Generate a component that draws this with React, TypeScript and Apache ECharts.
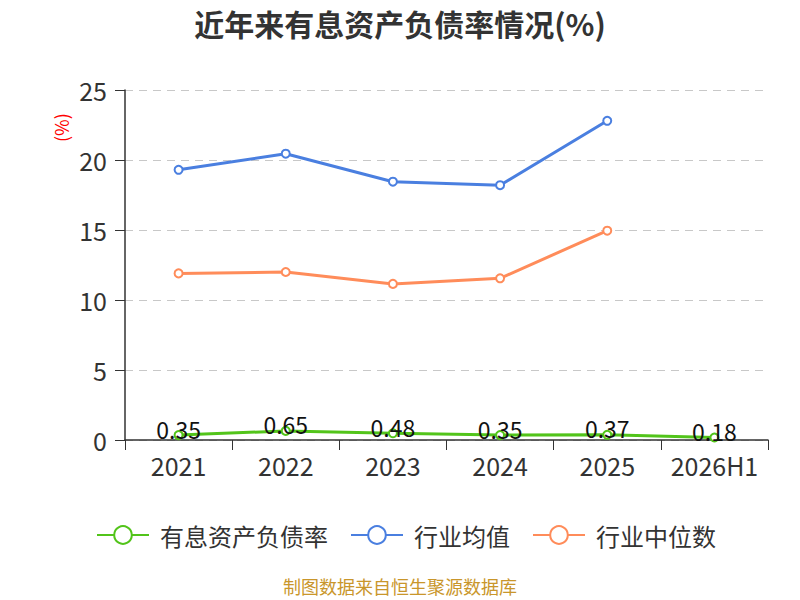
import { useRef, useEffect } from 'react'
import * as echarts from 'echarts'

const categories = ['2021', '2022', '2023', '2024', '2025', '2026H1']
const debtRatio = [0.35, 0.65, 0.48, 0.35, 0.37, 0.18]
const industryAvg = [19.3, 20.45, 18.45, 18.2, 22.8, null]
const industryMedian = [11.9, 12.0, 11.15, 11.55, 14.95, null]

const FONT = '"Noto Sans CJK SC", "Noto Sans", sans-serif'

export default function App() {
  const ref = useRef<HTMLDivElement>(null)

  useEffect(() => {
    const el = ref.current
    if (!el) return
    const chart = echarts.init(el, null, { renderer: 'svg' })

    const option: echarts.EChartsOption = {
      animation: false,
      backgroundColor: '#fff',
      textStyle: { fontFamily: FONT },
      title: {
        text: '近年来有息资产负债率情况(%)',
        left: 'center',
        top: 3,
        textStyle: { fontSize: 30, fontWeight: 'bold', color: '#333', fontFamily: FONT },
      },
      grid: { left: 125, right: 32, top: 90, bottom: 160, containLabel: false },
      legend: {
        top: 518,
        left: 91,
        itemWidth: 52,
        itemHeight: 22,
        itemGap: 22,
        textStyle: { fontSize: 24, color: '#333', fontFamily: FONT, padding: [0, 0, 0, 6] },
        data: ['有息资产负债率', '行业均值', '行业中位数'],
      },
      xAxis: {
        type: 'category',
        data: categories,
        boundaryGap: true,
        axisLine: { lineStyle: { color: '#333', width: 1.5 } },
        axisTick: { show: true, length: 10, lineStyle: { color: '#333' } },
        axisLabel: { interval: 0, fontSize: 25, color: '#333', margin: 12, fontFamily: FONT },
      },
      yAxis: {
        type: 'value',
        min: 0,
        max: 25,
        interval: 5,
        axisLine: { show: true, lineStyle: { color: '#333', width: 1.5 } },
        axisTick: { show: true, length: 10, lineStyle: { color: '#333' } },
        axisLabel: { fontSize: 25, color: '#333', margin: 18, fontFamily: FONT },
        splitLine: { lineStyle: { color: '#c8c8c8', type: [8, 6], width: 1.2 } },
      },
      graphic: [
        {
          type: 'text',
          x: 52,
          y: 142,
          rotation: Math.PI / 2,
          style: { text: '(%)', fill: '#ff0000', fontSize: 18, fontFamily: FONT },
        },
        {
          type: 'text',
          left: 'center',
          top: 577,
          style: { text: '制图数据来自恒生聚源数据库', fill: '#c9962b', fontSize: 18, fontFamily: FONT },
        },
      ],
      series: [
        {
          name: '有息资产负债率',
          type: 'line',
          data: debtRatio,
          symbol: 'emptyCircle',
          symbolSize: 8,
          lineStyle: { color: '#52c41a', width: 3 },
          itemStyle: { color: '#52c41a' },
          label: {
            show: true,
            position: 'top',
            offset: [0, 15],
            fontSize: 23,
            color: '#111',
            fontFamily: FONT,
          },
          z: 3,
        },
        {
          name: '行业均值',
          type: 'line',
          data: industryAvg,
          symbol: 'emptyCircle',
          symbolSize: 8,
          lineStyle: { color: '#4a7fe0', width: 3 },
          itemStyle: { color: '#4a7fe0' },
        },
        {
          name: '行业中位数',
          type: 'line',
          data: industryMedian,
          symbol: 'emptyCircle',
          symbolSize: 8,
          lineStyle: { color: '#ff8c5a', width: 3 },
          itemStyle: { color: '#ff8c5a' },
        },
      ],
    }

    chart.setOption(option)
    return () => {
      chart.dispose()
    }
  }, [])

  return (
    <div
      ref={ref}
      style={{ position: 'absolute', left: 0, top: 0, width: 800, height: 600 }}
    />
  )
}
